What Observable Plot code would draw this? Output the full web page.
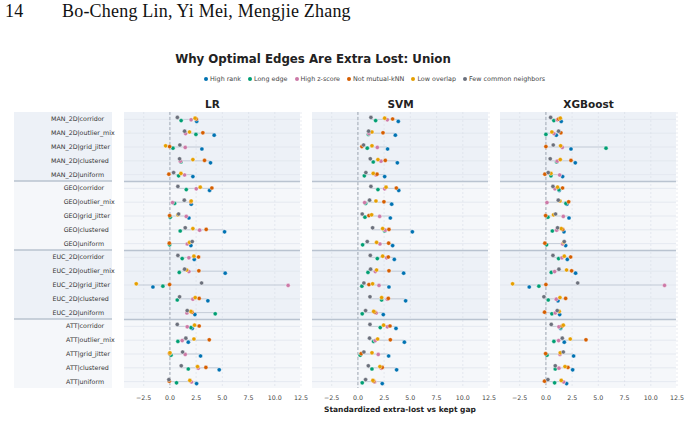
<!DOCTYPE html>
<html>
<head>
<meta charset="utf-8">
<script src="https://cdn.jsdelivr.net/npm/d3@7"></script>
<script src="https://cdn.jsdelivr.net/npm/@observablehq/plot@0.6"></script>
<style>
  body { margin: 0; background: #fff; width: 689px; height: 421px; position: relative; overflow: hidden; font-family: "DejaVu Sans", sans-serif; }
  .runhead { position: absolute; top: 1px; font-family: "Liberation Serif", serif; font-size: 18px; letter-spacing: 0.2px; color: #111; }
  #title { position: absolute; top: 52px; left: 313px; transform: translateX(-50%); white-space: nowrap; font-weight: bold; font-size: 11.8px; color: #222; }
  #legend { position: absolute; top: 75px; left: 204px; display: flex; gap: 7px; font-size: 6.4px; color: #444; white-space: nowrap; }
  #legend span { display: inline-flex; align-items: center; gap: 2px; }
  #legend i { display: inline-block; width: 4px; height: 4px; border-radius: 50%; }
  #chart { position: absolute; top: 90px; left: 0; }
  #xlabel { position: absolute; top: 405px; left: 124px; width: 552px; text-align: center; font-weight: bold; font-size: 7.5px; color: #222; }
</style>
</head>
<body>
<div class="runhead" style="left:5px">14</div>
<div class="runhead" style="left:62px">Bo-Cheng Lin, Yi Mei, Mengjie Zhang</div>
<div id="title">Why Optimal Edges Are Extra Lost: Union</div>
<div id="legend"></div>
<div id="chart"></div>
<div id="xlabel">Standardized extra-lost vs kept gap</div>
<script>
// Classifiers (one panel each), instance families and layouts (one row each)
const models = ["LR", "SVM", "XGBoost"];
const groups = ["MAN_2D", "GEO", "EUC_2D", "ATT"];
const variants = ["corridor", "outlier_mix", "grid_jitter", "clustered", "uniform"];

// Edge criteria and their colours
const seriesNames = ["High rank", "Long edge", "High z-score", "Not mutual-kNN", "Low overlap", "Few common neighbors"];
const seriesColors = ["#0072B2", "#009E73", "#CC79A7", "#D55E00", "#E69F00", "#6b707c"];

// Tick values of the shared x axis
const xTicks = [-2.5, 0, 2.5, 5, 7.5, 10, 12.5];

// Standardized gaps per row, columns in seriesNames order
const lrValues = [
  [2.55, 1.07, 2.02, 2.52, 2.40, 0.71],
  [4.22, 2.48, 1.49, 3.14, 1.87, 1.40],
  [3.05, 0.29, 1.46, -0.03, -0.41, 0.95],
  [3.87, 1.05, 1.00, 3.30, 2.19, 0.92],
  [2.19, 0.83, 1.40, -0.10, 1.05, 0.35],
  [3.78, 1.56, 2.51, 4.00, 2.89, 0.76],
  [2.03, 0.44, 0.25, 2.00, 2.03, 1.37],
  [1.81, 0.03, 1.56, -0.03, 0.76, 0.83],
  [5.21, 0.98, 2.83, 3.46, 2.19, 1.46],
  [2.00, -0.03, 1.65, -0.06, 1.87, 2.13],
  [2.32, 1.17, 1.81, 2.73, 2.29, 0.76],
  [5.27, 0.89, 1.81, 2.76, 1.60, 1.40],
  [-1.62, -0.67, 11.27, -0.03, -3.21, 3.02],
  [3.62, 0.70, 2.19, 2.79, 2.41, 0.92],
  [2.38, 4.32, 1.62, 2.10, 2.00, 1.65],
  [2.13, 2.00, 1.65, 2.79, 2.35, 0.70],
  [1.75, 0.76, 1.17, 3.75, 2.29, 1.52],
  [2.92, 0.10, 1.46, -0.03, 0.00, 1.21],
  [4.70, 1.75, 2.70, 3.43, 2.63, 1.08],
  [2.54, 0.63, 2.06, -0.06, 1.90, -0.10]
];
const svmValues = [
  [3.85, 1.69, 2.80, 3.31, 2.55, 1.24],
  [3.57, 1.00, 1.05, 2.39, 1.34, 1.02],
  [2.83, 0.89, 1.85, 0.38, 1.34, 0.54],
  [3.76, 1.46, 2.20, 2.61, 1.91, 1.18],
  [2.55, 0.61, 1.72, 1.82, 1.46, 0.76],
  [3.89, 1.91, 2.55, 3.66, 2.68, 1.24],
  [3.22, 0.73, 0.64, 2.48, 1.72, 1.11],
  [3.09, 0.67, 2.07, 1.05, 1.31, 0.41],
  [5.19, 2.55, 2.60, 2.96, 2.36, 1.40],
  [3.31, 0.45, 2.10, 2.93, 1.78, 0.89],
  [3.47, 1.85, 2.74, 2.90, 2.36, 1.18],
  [4.36, 0.96, 1.66, 2.96, 1.78, 1.21],
  [2.96, 0.38, 2.01, 1.05, 1.40, 0.57],
  [4.55, 2.26, 2.80, 2.90, 2.26, 1.15],
  [2.42, 0.41, 1.75, 1.60, 1.50, 0.73],
  [3.63, 2.13, 2.80, 3.06, 2.45, 1.15],
  [4.43, 1.50, 1.66, 3.09, 1.88, 1.11],
  [2.93, 0.22, 1.94, 0.32, 1.34, 0.57],
  [3.69, 1.34, 2.23, 2.32, 2.10, 0.99],
  [2.32, 0.41, 1.59, 1.50, 1.43, 0.73]
];
const xgbValues = [
  [1.46, 0.76, 1.08, 1.21, 1.37, 0.45],
  [0.99, 0.00, 0.76, 1.43, 0.57, 1.21],
  [2.39, 5.73, 1.56, 0.00, 1.40, 0.70],
  [2.80, 1.02, 1.08, 2.39, 1.37, 0.41],
  [1.59, 0.48, 1.31, -0.10, 0.48, 0.22],
  [1.27, 1.24, 0.86, 1.59, 1.11, 0.67],
  [2.00, 1.91, 0.10, 2.17, 1.34, 1.18],
  [2.20, 0.19, 1.66, -0.03, 0.73, 0.92],
  [1.72, 0.61, 1.02, 1.60, 1.46, 1.11],
  [1.88, 0.06, 1.59, -0.10, 1.70, 1.75],
  [2.04, 1.21, 1.53, 2.36, 1.75, 0.67],
  [2.83, 0.51, 0.83, 2.45, 1.97, 1.24],
  [-1.59, -0.67, 11.31, 0.00, -3.18, 3.03],
  [1.15, 0.22, 0.99, 1.88, 1.34, -0.19],
  [1.31, 0.57, 0.89, -0.13, 1.27, 1.08],
  [1.40, 1.43, 1.24, 1.55, 1.66, 0.51],
  [1.75, 0.76, 1.21, 3.82, 2.32, 1.56],
  [2.64, 0.10, 1.34, -0.03, 1.37, 1.66],
  [2.55, 0.89, 1.24, 2.10, 1.82, 0.89],
  [1.97, 0.83, 1.69, -0.13, 1.46, 0.19]
];

const valuesByModel = [lrValues, svmValues, xgbValues];
const xDomain = [-4.33, 12.45];
const bandFill = ["#edf1f7", "#f5f7fa"];

// Row descriptors: index 0 at the top
const rows = groups.flatMap((g, gi) => variants.map((v, vi) => ({row: gi * variants.length + vi, group: g, variant: v})));

// Long table of points
const points = models.flatMap((m, mi) =>
  valuesByModel[mi].flatMap((vals, ri) => vals.map((v, si) => ({model: m, row: ri, s: si, value: v}))));

// Min–max span per row and panel
const spans = models.flatMap((m, mi) =>
  valuesByModel[mi].map((vals, ri) => ({model: m, row: ri, lo: d3.min(vals), hi: d3.max(vals)})));

// Shaded blocks, one per instance family
const blocks = groups.map((g, gi) => ({
  y1: gi * variants.length - 0.5,
  y2: (gi + 1) * variants.length - 0.5,
  fill: bandFill[gi % 2]
}));
const separators = groups.slice(1).map((g, gi) => (gi + 1) * variants.length - 0.5);
const firstPanel = () => models[0];

// Legend
const legend = d3.select("#legend");
seriesNames.forEach((name, i) => {
  const item = legend.append("span");
  item.append("i").style("background", seriesColors[i]);
  item.append("span").text(name);
});

const dotMarks = seriesNames.map((name, si) =>
  Plot.dot(points.filter(d => d.s === si), {
    x: "value", y: "row", fx: "model",
    r: 2.1, fill: seriesColors[si], stroke: "white", strokeWidth: 0.4,
    dy: (2.5 - si) * 0.8
  }));

const chart = Plot.plot({
  width: 689,
  height: 331,
  marginTop: 22,
  marginBottom: 33,
  marginLeft: 124,
  marginRight: 13,
  style: {fontFamily: "DejaVu Sans, sans-serif", fontSize: "6.3px", color: "#444", background: "transparent"},
  fx: {domain: models, paddingInner: 0.064, paddingOuter: 0, label: null},
  x: {domain: xDomain, label: null},
  y: {domain: [rows.length - 0.5, -0.5], label: null},
  marks: [
    // row-label panel on the left
    Plot.rect(blocks, {fx: firstPanel, x1: () => xDomain[0], x2: () => xDomain[0], y1: "y1", y2: "y2", fill: "fill", insetLeft: -110, insetRight: 12}),
    Plot.rect(separators, {fx: firstPanel, x1: () => xDomain[0], x2: () => xDomain[0], y1: d => d, y2: d => d, fill: "#b9c3d0", insetLeft: -110, insetRight: 12, insetTop: -0.75, insetBottom: -0.75}),
    Plot.text(rows, {fx: firstPanel, y: "row", frameAnchor: "left", dx: -47, textAnchor: "end", text: "group", fill: "#333"}),
    Plot.text(rows, {fx: firstPanel, y: "row", frameAnchor: "left", dx: -47, textAnchor: "start", text: d => "|" + d.variant, fill: "#333"}),
    // panel backgrounds and guides
    Plot.rect(blocks, {y1: "y1", y2: "y2", fill: "fill"}),
    Plot.ruleY(rows, {y: "row", stroke: "#e1e6ed", strokeWidth: 0.8}),
    Plot.ruleX(xTicks, {stroke: "#d8dee6", strokeWidth: 0.6, strokeDasharray: "2,2"}),
    Plot.ruleX([0], {stroke: "#8e98a5", strokeWidth: 0.8, strokeDasharray: "3,2"}),
    Plot.ruleY(separators, {stroke: "#b9c3d0", strokeWidth: 1.5}),
    // spans and points
    Plot.ruleY(spans, {y: "row", x1: "lo", x2: "hi", fx: "model", stroke: "#c6ced9", strokeWidth: 1}),
    ...dotMarks,
    // axes
    Plot.axisX({ticks: xTicks, tickFormat: d3.format(".1f"), tickSize: 0, tickPadding: 7, label: null, fill: "#444"}),
    Plot.axisY({ticks: [], label: null}),
    Plot.axisFx({anchor: "top", tickSize: 0, tickPadding: 5, label: null, fontSize: 10.5, fontWeight: "bold", fill: "#222"})
  ]
});
document.getElementById("chart").append(chart);
</script>
</body>
</html>
